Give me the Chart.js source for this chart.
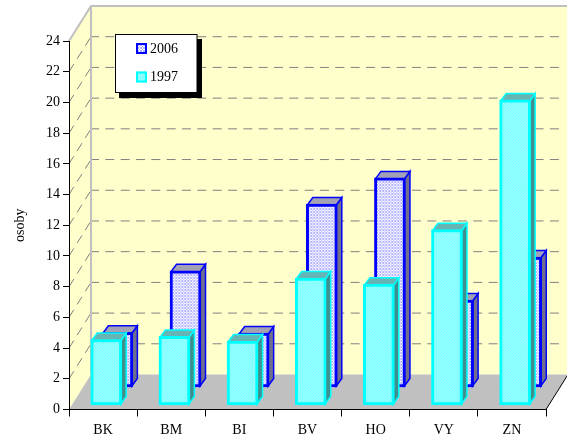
<!DOCTYPE html>
<html>
<head>
<meta charset="utf-8">
<style>
  html, body { margin: 0; padding: 0; background: #fff; }
  canvas { display: block; }
</style>
<script src="https://cdn.jsdelivr.net/npm/chart.js@4/dist/chart.umd.min.js"></script>
</head>
<body>
<canvas id="chart" width="567" height="436"></canvas>
<script>
const categories = ['BK', 'BM', 'BI', 'BV', 'HO', 'VY', 'ZN'];
const values2006 = [3.6, 7.6, 3.55, 11.95, 13.65, 5.7, 8.5];
const values1997 = [4.3, 4.5, 4.2, 8.3, 7.9, 11.45, 19.9];
const yTicks = [0, 2, 4, 6, 8, 10, 12, 14, 16, 18, 20, 22, 24];

const FONT = '"Liberation Serif", "Times New Roman", serif';
// box depth of the fake 3D floor
const DEPTH_X = 22, DEPTH_Y = 35;
const BAR_DEPTH_X = 5.5, BAR_DEPTH_Y = 7.5;

// small tiled fills, the original uses dithered bitmaps
function makePattern(size, base, dot, cells) {
    const c = document.createElement('canvas');
    c.width = c.height = size;
    const g = c.getContext('2d');
    g.fillStyle = base;
    g.fillRect(0, 0, size, size);
    g.fillStyle = dot;
    cells.forEach(p => g.fillRect(p[0], p[1], 1, 1));
    return g.createPattern(c, 'repeat');
}

const ctxMain = document.getElementById('chart').getContext('2d');
const fill2006 = makePattern(3, '#ffffff', '#b4b4ff', [[0, 0], [2, 0], [1, 1], [0, 2], [2, 2]]);
const fill1997 = makePattern(3, '#7dffff', '#a6ffff', [[0, 0], [1, 1], [2, 2]]);
const look = [
    { dx: 14.3, dy: 22, side: '#70708c', top: '#a2a2b4' },
    { dx: 3.2, dy: 4, side: '#3f8f8f', top: '#66b4b4' }
];

const walls = {
    id: 'walls',
    beforeDraw(chart) {
        const ctx = chart.ctx, a = chart.chartArea, y = chart.scales.y;
        const bx = a.left + DEPTH_X, rx = a.right + DEPTH_X;
        ctx.save();
        ctx.fillStyle = '#ffffcc';
        ctx.fillRect(bx, a.top - DEPTH_Y, rx - bx, a.bottom - a.top);
        ctx.beginPath();
        ctx.moveTo(a.left, a.top);
        ctx.lineTo(bx, a.top - DEPTH_Y);
        ctx.lineTo(bx, a.bottom - DEPTH_Y);
        ctx.lineTo(a.left, a.bottom);
        ctx.closePath();
        ctx.fill();
        // floor
        ctx.fillStyle = '#c0c0c0';
        ctx.beginPath();
        ctx.moveTo(a.left, a.bottom);
        ctx.lineTo(bx, a.bottom - DEPTH_Y);
        ctx.lineTo(rx, a.bottom - DEPTH_Y);
        ctx.lineTo(a.right, a.bottom);
        ctx.closePath();
        ctx.fill();
        // dashed grid on back wall and left wall
        ctx.strokeStyle = '#808080';
        ctx.lineWidth = 1;
        ctx.setLineDash([9, 6.33]);
        yTicks.forEach(v => {
            if (v === 0) return;
            const py = y.getPixelForValue(v);
            ctx.lineDashOffset = 0;
            ctx.beginPath();
            ctx.moveTo(a.left, py);
            ctx.lineTo(bx, py - DEPTH_Y);
            ctx.stroke();
            if (v === 24) return;
            ctx.lineDashOffset = 1;
            ctx.beginPath();
            ctx.moveTo(bx, py - DEPTH_Y);
            ctx.lineTo(rx - 7, py - DEPTH_Y);
            ctx.stroke();
        });
        ctx.setLineDash([]);
        // wall edges
        ctx.strokeStyle = '#c0c0c0';
        ctx.lineWidth = 2;
        ctx.beginPath();
        ctx.moveTo(a.left, a.top);
        ctx.lineTo(bx, a.top - DEPTH_Y);
        ctx.lineTo(rx, a.top - DEPTH_Y);
        ctx.moveTo(bx, a.top - DEPTH_Y);
        ctx.lineTo(bx, a.bottom - DEPTH_Y);
        ctx.stroke();
        ctx.strokeStyle = '#000000';
        ctx.lineWidth = 1;
        ctx.beginPath();
        ctx.moveTo(a.right, a.bottom);
        ctx.lineTo(rx, a.bottom - DEPTH_Y);
        ctx.stroke();
        ctx.restore();
    }
};

function face(ctx, pts, fill, stroke) {
    ctx.beginPath();
    pts.forEach((p, i) => i ? ctx.lineTo(p[0], p[1]) : ctx.moveTo(p[0], p[1]));
    ctx.closePath();
    ctx.fillStyle = fill;
    ctx.fill();
    ctx.strokeStyle = stroke;
    ctx.lineWidth = 1.5;
    ctx.stroke();
}

// moves each row back on the floor and adds top and side faces
const depthBars = {
    id: 'depthBars',
    beforeDatasetDraw(chart, args) {
        const ctx = chart.ctx, st = look[args.index];
        const border = chart.data.datasets[args.index].borderColor;
        ctx.save();
        ctx.translate(st.dx, -st.dy);
        args.meta.data.forEach(bar => {
            const r = bar.x + bar.width / 2 - 1, l = bar.x - bar.width / 2 + 1;
            const t = bar.y + 1, b = bar.base - 1;
            face(ctx, [[r, t], [r + BAR_DEPTH_X, t - BAR_DEPTH_Y], [r + BAR_DEPTH_X, b - BAR_DEPTH_Y], [r, b]], st.side, border);
            face(ctx, [[l, t], [l + BAR_DEPTH_X, t - BAR_DEPTH_Y], [r + BAR_DEPTH_X, t - BAR_DEPTH_Y], [r, t]], st.top, border);
        });
    },
    afterDatasetDraw(chart) {
        chart.ctx.restore();
    }
};

const legendBox = {
    id: 'legendBox',
    afterDatasetsDraw(chart) {
        const ctx = chart.ctx;
        ctx.save();
        ctx.fillStyle = '#000000';
        ctx.fillRect(119, 39, 83, 59);
        ctx.fillStyle = '#ffffff';
        ctx.fillRect(115.5, 34.5, 81.5, 58);
        ctx.strokeStyle = '#000000';
        ctx.lineWidth = 1;
        ctx.strokeRect(115.5, 34.5, 81.5, 58);
        chart.data.datasets.forEach((ds, i) => {
            const sy = 44 + i * 28.5;
            ctx.fillStyle = ds.backgroundColor;
            ctx.fillRect(136, sy - 1, 11, 11);
            ctx.strokeStyle = ds.borderColor;
            ctx.lineWidth = 2;
            ctx.strokeRect(137, sy, 9, 9);
            ctx.fillStyle = '#000000';
            ctx.font = '14px ' + FONT;
            ctx.textBaseline = 'middle';
            ctx.fillText(ds.label, 150, sy + 5);
        });
        ctx.restore();
    }
};

new Chart(ctxMain, {
    type: 'bar',
    data: {
        labels: categories,
        datasets: [
            { label: '2006', data: values2006, order: 2, backgroundColor: fill2006, borderColor: '#0000ff' },
            { label: '1997', data: values1997, order: 1, backgroundColor: fill1997, borderColor: '#00ffff' }
        ]
    },
    options: {
        responsive: false,
        animation: false,
        layout: { autoPadding: false, padding: { top: 41, right: 21, left: 0, bottom: 0 } },
        datasets: { bar: { grouped: false, barThickness: 31, borderWidth: 3, borderSkipped: false, clip: false } },
        plugins: { legend: { display: false }, tooltip: { enabled: false } },
        scales: {
            x: {
                afterFit(s) { s.height = 26.5; },
                grid: { drawOnChartArea: false, color: '#000000', tickLength: 7 },
                border: { color: '#000000' },
                ticks: { color: '#000000', padding: 5, font: { family: FONT, size: 14 }, maxRotation: 0 }
            },
            y: {
                min: 0,
                max: 24,
                afterFit(s) { s.width = 69; },
                afterBuildTicks(s) { s.ticks = yTicks.map(v => ({ value: v })); },
                grid: { drawOnChartArea: false, color: '#000000', tickLength: 6 },
                border: { color: '#000000' },
                ticks: { color: '#000000', padding: 3, font: { family: FONT, size: 14 } },
                title: {
                    display: true,
                    text: 'osoby',
                    color: '#000000',
                    font: { family: FONT, size: 14 },
                    padding: { top: 12, bottom: 0 }
                }
            }
        }
    },
    plugins: [walls, depthBars, legendBox]
});
</script>
</body>
</html>
